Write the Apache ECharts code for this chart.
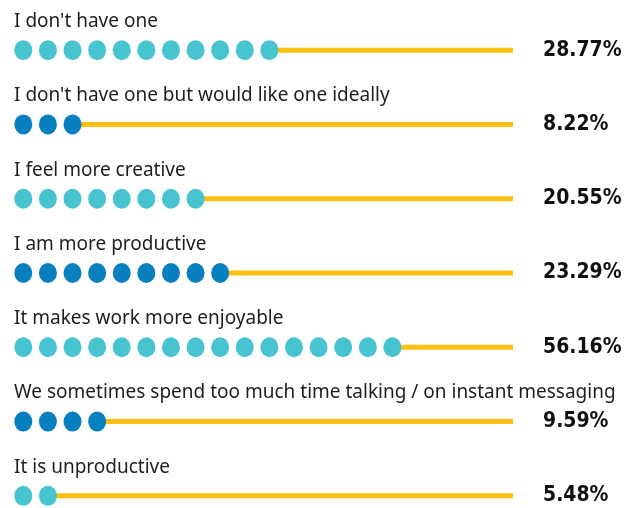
<!DOCTYPE html>
<html>
<head>
<meta charset="utf-8">
<script src="https://cdn.jsdelivr.net/npm/echarts@6/dist/echarts.min.js"></script>
<style>
html, body { margin: 0; padding: 0; background: #fff; }
#main { width: 633px; height: 508px; }
</style>
</head>
<body>
<div id="main"></div>
<script>
var categories = [
    "I don't have one",
    "I don't have one but would like one ideally",
    "I feel more creative",
    "I am more productive",
    "It makes work more enjoyable",
    "We sometimes spend too much time talking / on instant messaging",
    "It is unproductive"
];
var percents = [28.77, 8.22, 20.55, 23.29, 56.16, 9.59, 5.48];
var dotCounts = [11, 3, 8, 9, 16, 4, 2];

var LIGHT = '#47c4cf';
var DARK = '#0880c0';
var AXIS_MAX = 20.4; // in dot steps

var myChart = echarts.init(document.getElementById('main'));

var option = {
    animation: false,
    grid: { left: 11, width: 502, top: 13, height: 520, outerBoundsMode: 'none', containLabel: false },
    xAxis: { type: 'value', min: 0, max: AXIS_MAX, show: false },
    yAxis: {
        type: 'category',
        data: categories,
        inverse: true,
        show: false
    },
    series: [
        {
            type: 'bar',
            stack: 'line',
            barWidth: 5,
            silent: true,
            itemStyle: { color: 'transparent' },
            // category text sits above the dots
            label: {
                show: true,
                position: [3, -26],
                align: 'left',
                verticalAlign: 'middle',
                fontSize: 19,
                color: '#1e1e1e',
                fontFamily: 'Noto Sans',
                formatter: function (p) { return categories[p.dataIndex]; }
            },
            data: dotCounts.map(function (n) { return n - 0.5; })
        },
        {
            type: 'bar',
            stack: 'line',
            barWidth: 5,
            silent: true,
            itemStyle: { color: '#fdc010' },
            label: {
                show: true,
                position: 'right',
                distance: 30,
                fontSize: 21,
                fontWeight: 'bold',
                color: '#111',
                fontFamily: '"DejaVu Sans Condensed", sans-serif',
                formatter: function (p) { return percents[p.dataIndex].toFixed(2) + '%'; }
            },
            data: dotCounts.map(function (n) { return AXIS_MAX - (n - 0.5); })
        },
        {
            type: 'pictorialBar',
            symbol: 'circle',
            symbolSize: [18, 20],
            symbolMargin: '1!',
            z: 10,
            data: dotCounts.map(function (n, i) {
                return {
                    value: n,
                    symbolRepeat: n,
                    symbolBoundingData: n,
                    itemStyle: { color: i % 2 === 0 ? LIGHT : DARK }
                };
            })
        }
    ]
};

myChart.setOption(option);
</script>
</body>
</html>
